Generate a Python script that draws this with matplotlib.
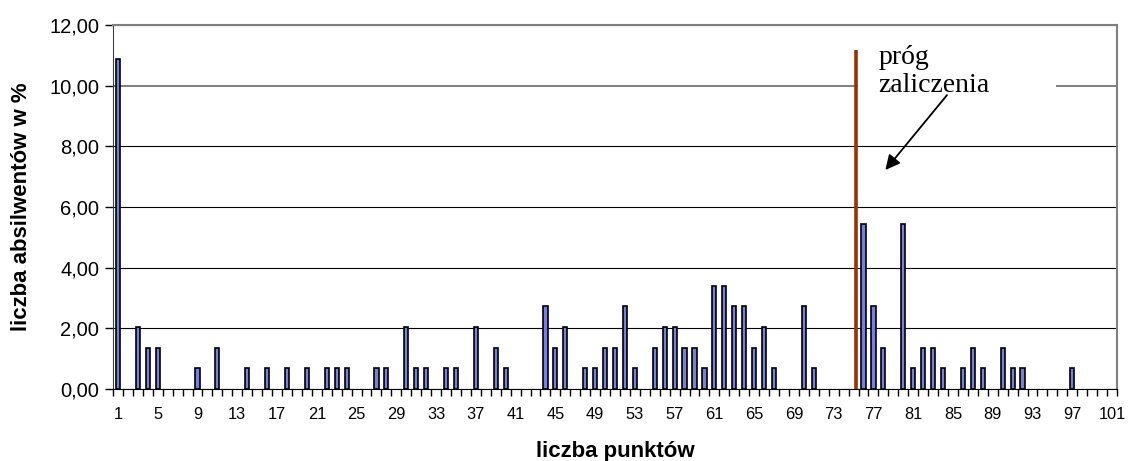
import matplotlib.pyplot as plt
from matplotlib.patches import Rectangle
from matplotlib.ticker import FuncFormatter

# liczba punktów -> odsetek absolwentów (%)
points = list(range(1, 102))
nonzero = {
    1: 10.88, 3: 2.04, 4: 1.36, 5: 1.36, 9: 0.68, 11: 1.36, 14: 0.68,
    16: 0.68, 18: 0.68, 20: 0.68, 22: 0.68, 23: 0.68, 24: 0.68,
    27: 0.68, 28: 0.68, 30: 2.04, 31: 0.68, 32: 0.68, 34: 0.68, 35: 0.68,
    37: 2.04, 39: 1.36, 40: 0.68, 44: 2.72, 45: 1.36, 46: 2.04,
    48: 0.68, 49: 0.68, 50: 1.36, 51: 1.36, 52: 2.72, 53: 0.68,
    55: 1.36, 56: 2.04, 57: 2.04, 58: 1.36, 59: 1.36, 60: 0.68,
    61: 3.40, 62: 3.40, 63: 2.72, 64: 2.72, 65: 1.36, 66: 2.04, 67: 0.68,
    70: 2.72, 71: 0.68, 76: 5.44, 77: 2.72, 78: 1.36, 80: 5.44, 81: 0.68,
    82: 1.36, 83: 1.36, 84: 0.68, 86: 0.68, 87: 1.36, 88: 0.68,
    90: 1.36, 91: 0.68, 92: 0.68, 97: 0.68,
}
values = [nonzero.get(p, 0.0) for p in points]
tick_labels = list(range(1, 102, 4))

threshold_x = 75.25
threshold_top = 11.17

fig = plt.figure(figsize=(11.28, 4.61), dpi=100)
ax = fig.add_axes([113 / 1128, 1 - 389 / 461, 1004 / 1128, 364 / 461])

# zero values are not drawn (no flat bars)
bar_x = [p for p, v in zip(points, values) if v > 0]
bar_h = [v for v in values if v > 0]
ax.bar(bar_x, bar_h, width=0.42, color='#7b7fdc', edgecolor='black',
       linewidth=1.2, zorder=3)

ax.set_xlim(0.5, 101.5)
ax.set_ylim(0, 12)
ax.set_yticks(range(0, 13, 2))
ax.yaxis.set_major_formatter(FuncFormatter(lambda v, p: f'{v:.2f}'.replace('.', ',')))
ax.grid(axis='y', color='black', linewidth=0.8, zorder=1)
gl = ax.yaxis.get_gridlines()
gl[5].set_color('#808080')
gl[5].set_linewidth(1.4)

ax.set_xticks(tick_labels)
ax.set_xticks([p - 0.5 for p in points] + [101.5], minor=True)
ax.tick_params(axis='x', which='major', length=0, pad=13, labelsize=11.8)
ax.tick_params(axis='x', which='minor', length=5, width=1, color='black')
ax.tick_params(axis='y', length=6, width=1, labelsize=14.5, pad=4)
for lab in ax.get_xticklabels() + ax.get_yticklabels():
    lab.set_family('Liberation Sans')

ax.spines['top'].set_color('#808080')
ax.spines['right'].set_color('#808080')
ax.spines['top'].set_linewidth(1.5)
ax.spines['right'].set_linewidth(1.5)
ax.spines['left'].set_color('#404040')
ax.spines['bottom'].set_color('black')

# próg zaliczenia
ax.plot([threshold_x, threshold_x], [0, threshold_top], color='#993300',
        linewidth=2.6, zorder=4, solid_capstyle='butt')
ax.add_patch(Rectangle((0.742, 0.79), 0.197, 0.2, transform=ax.transAxes,
                       facecolor='white', edgecolor='none', zorder=2))
ax.text(77.5, 10.72, 'próg', family='Liberation Serif', fontsize=20, zorder=5)
ax.text(77.5, 9.79, 'zaliczenia', family='Liberation Serif', fontsize=20, zorder=5)
ax.annotate('', xy=(78.2, 7.22), xytext=(84.4, 9.69),
            arrowprops=dict(arrowstyle='-|>', color='black', lw=1.3,
                            mutation_scale=22, shrinkA=0, shrinkB=0), zorder=5)

ax.set_xlabel('liczba punktów', family='Liberation Sans', fontsize=16,
              fontweight='bold')
ax.set_ylabel('liczba absilwentów w %', family='Liberation Sans', fontsize=16,
              fontweight='bold')
ax.xaxis.set_label_coords(0.5, -(441 - 389) / 364)
ax.yaxis.set_label_coords(-(113 - 32) / 1004, 0.5)

fig.savefig('out.png', dpi=100)
